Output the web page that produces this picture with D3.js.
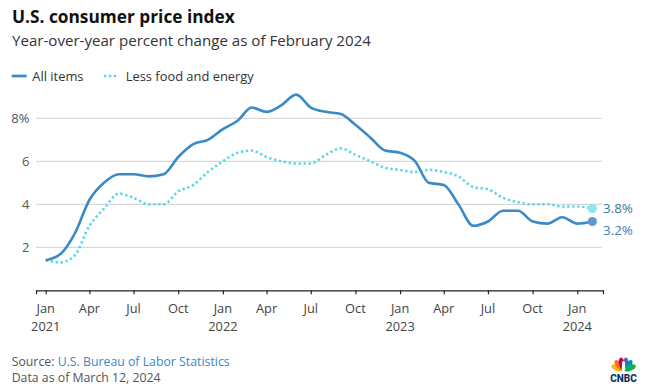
<!DOCTYPE html>
<html>
<head>
<meta charset="utf-8">
<script src="https://cdn.jsdelivr.net/npm/d3@7"></script>
<style>
  html, body { margin: 0; padding: 0; background: #fff; }
  svg { display: block; font-family: "Open Sans", "Noto Sans", sans-serif; }
</style>
</head>
<body>
<svg id="chart" width="647" height="390"></svg>
<script>
// ---- Data ----
const months = [
  "2021-01","2021-02","2021-03","2021-04","2021-05","2021-06","2021-07","2021-08","2021-09","2021-10","2021-11","2021-12",
  "2022-01","2022-02","2022-03","2022-04","2022-05","2022-06","2022-07","2022-08","2022-09","2022-10","2022-11","2022-12",
  "2023-01","2023-02","2023-03","2023-04","2023-05","2023-06","2023-07","2023-08","2023-09","2023-10","2023-11","2023-12",
  "2024-01","2024-02"
];
const allItems = [
  1.4,1.7,2.6,4.2,5.0,5.4,5.4,5.3,5.4,6.2,6.8,7.0,
  7.5,7.9,8.5,8.3,8.6,9.1,8.5,8.3,8.2,7.7,7.1,6.5,
  6.4,6.0,5.0,4.9,4.0,3.0,3.2,3.7,3.7,3.2,3.1,3.4,
  3.1,3.2
];
const lessFoodEnergy = [
  1.4,1.3,1.6,3.0,3.8,4.5,4.3,4.0,4.0,4.6,4.9,5.5,
  6.0,6.4,6.5,6.2,6.0,5.9,5.9,6.3,6.6,6.3,6.0,5.7,
  5.6,5.5,5.6,5.5,5.3,4.8,4.7,4.3,4.1,4.0,4.0,3.9,
  3.9,3.8
];
const yTicks = [2, 4, 6, 8];
const seriesNames = ["All items", "Less food and energy"];
const title = "U.S. consumer price index";
const subtitle = "Year-over-year percent change as of February 2024";

// ---- Setup ----
const parse = d3.timeParse("%Y-%m");
const dates = months.map(parse);
const svg = d3.select("#chart");
const BLUE = "#3a8ac8";
const CYAN = "#5ad9e9";

const x = d3.scaleTime()
  .domain([new Date(2020, 11, 12), new Date(2024, 1, 23)])
  .range([36, 603]);
const y = d3.scaleLinear().domain([0, 10]).range([290.3, 75.3]);

// Title
svg.append("text").attr("x", 12).attr("y", 22.7)
  .attr("font-size", 17.3).attr("font-weight", 700).attr("fill", "#111")
  .text(title);
svg.append("text").attr("x", 12).attr("y", 45.7)
  .attr("font-size", 15.1).attr("fill", "#333")
  .text(subtitle);

// Legend
const lg = svg.append("g");
lg.append("line").attr("x1", 11.7).attr("x2", 26.7).attr("y1", 76).attr("y2", 76)
  .attr("stroke", BLUE).attr("stroke-width", 2.7);
lg.append("text").attr("x", 32.3).attr("y", 80.5).attr("font-size", 12.9).attr("fill", "#333").text(seriesNames[0]);
lg.append("line").attr("x1", 104).attr("x2", 116).attr("y1", 76).attr("y2", 76)
  .attr("stroke", CYAN).attr("stroke-width", 2.7).attr("stroke-dasharray", "2.4,2.4");
lg.append("text").attr("x", 125.7).attr("y", 80.5).attr("font-size", 12.9).attr("fill", "#333").text(seriesNames[1]);

// Grid
const grid = svg.append("g");
grid.selectAll("line").data(yTicks).join("line")
  .attr("x1", 36).attr("x2", 602)
  .attr("y1", d => y(d)).attr("y2", d => y(d))
  .attr("stroke", "#cfcfcf").attr("stroke-width", 1);
grid.selectAll("text").data(yTicks).join("text")
  .attr("x", 29.5).attr("y", d => y(d) + 4.6)
  .attr("text-anchor", "end").attr("font-size", 13).attr("fill", "#555")
  .text(d => d === 8 ? d + "%" : d);

// X axis
const xAxis = d3.axisBottom(x)
  .ticks(d3.timeMonth.every(3))
  .tickSize(4)
  .tickFormat("");
const gx = svg.append("g").attr("transform", "translate(0,290.3)").call(xAxis);
gx.select(".domain").attr("stroke", "#222").attr("stroke-width", 1.2);
gx.selectAll(".tick line").attr("stroke", "#222").attr("stroke-width", 1.2);
const fmtM = d3.timeFormat("%b");
const fmtY = d3.timeFormat("%Y");
const tickDates = x.ticks(d3.timeMonth.every(3));
const tl = svg.append("g");
tickDates.forEach(d => {
  const t = tl.append("text").attr("x", x(d)).attr("y", 313)
    .attr("text-anchor", "middle").attr("font-size", 12.8).attr("fill", "#444");
  t.append("tspan").attr("x", x(d)).text(fmtM(d));
  if (d.getMonth() === 0) {
    t.append("tspan").attr("x", x(d)).attr("dy", 17.5).text(fmtY(d));
  }
});

// Lines
const line = vals => d3.line()
  .x((d, i) => x(dates[i]))
  .y(d => y(d))
  .curve(d3.curveMonotoneX)(vals);

svg.append("path").attr("d", line(lessFoodEnergy))
  .attr("fill", "none").attr("stroke", CYAN).attr("stroke-width", 2.6)
  .attr("stroke-dasharray", "2.4,2.6");
svg.append("path").attr("d", line(allItems))
  .attr("fill", "none").attr("stroke", BLUE).attr("stroke-width", 2.6)
  .attr("stroke-linejoin", "round");

// End points
const last = dates.length - 1;
svg.append("circle").attr("cx", x(dates[last])).attr("cy", y(lessFoodEnergy[last]))
  .attr("r", 4.6).attr("fill", "#8fe6f1");
svg.append("circle").attr("cx", x(dates[last])).attr("cy", y(allItems[last]))
  .attr("r", 4.6).attr("fill", "#5f98cd");
svg.append("text").attr("x", 603).attr("y", y(lessFoodEnergy[last]) + 4)
  .attr("font-size", 13.4).attr("fill", "#2c7f9c")
  .text(lessFoodEnergy[last].toFixed(1) + "%");
svg.append("text").attr("x", 603).attr("y", y(allItems[last]) + 13)
  .attr("font-size", 13.4).attr("fill", "#3a80b8")
  .text(allItems[last].toFixed(1) + "%");

// Footer
const f1 = svg.append("text").attr("x", 11.7).attr("y", 366).attr("font-size", 12.3).attr("fill", "#555");
f1.append("tspan").text("Source: ");
f1.append("tspan").attr("fill", "#3a87c6").text("U.S. Bureau of Labor Statistics");
svg.append("text").attr("x", 11.7).attr("y", 381.7).attr("font-size", 12.3).attr("fill", "#555")
  .text("Data as of March 12, 2024");

// CNBC logo
const logo = svg.append("g").attr("transform", "translate(623.5,370.5)");
const featherColors = ["#fcb711", "#f37021", "#cc004c", "#6460aa", "#0089d0", "#0db14b"];
const angles = [-68, -40, -13, 13, 40, 68];
featherColors.forEach((c, i) => {
  logo.append("ellipse").attr("cx", 0).attr("cy", -7).attr("rx", 3).attr("ry", 6.2)
    .attr("fill", c).attr("transform", `rotate(${angles[i]})`);
});
logo.append("path").attr("d", "M-1.8,0 L-1.3,-8.5 Q0,-10.5 1.3,-8.5 L1.8,0 Z").attr("fill", "#fff");
svg.append("text").attr("x", 623.5).attr("y", 382).attr("text-anchor", "middle")
  .attr("font-size", 10).attr("font-weight", 800).attr("fill", "#0a2b5c")
  .attr("font-family", "Roboto, sans-serif").text("CNBC");
</script>
</body>
</html>
